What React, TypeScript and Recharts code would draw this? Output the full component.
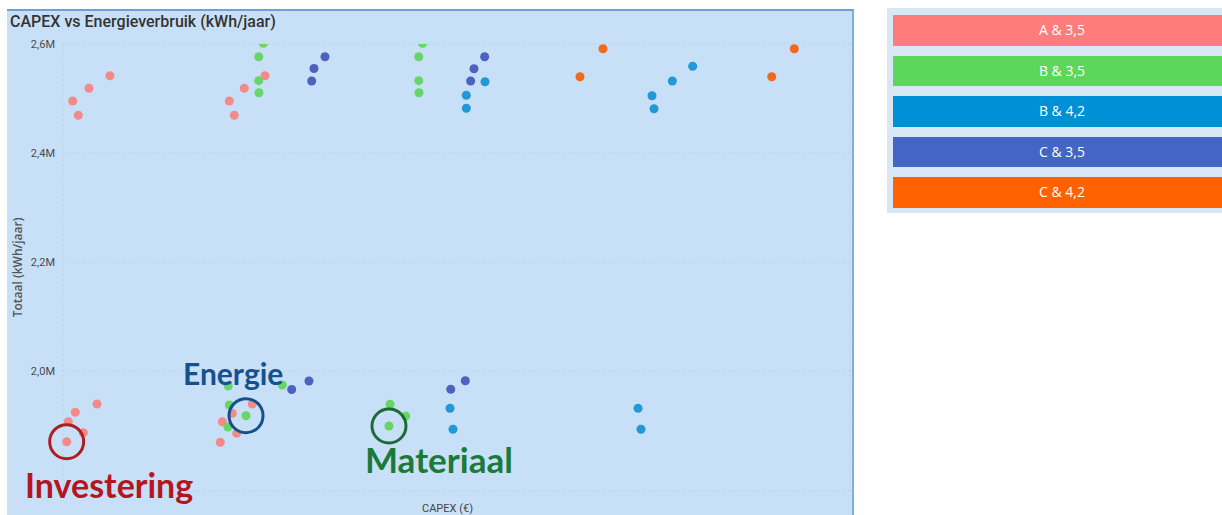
import React from 'react';
import { ScatterChart, Scatter, XAxis, YAxis, ZAxis, CartesianGrid, ReferenceDot } from 'recharts';

// Series labels and colours
const seriesNames = ['A & 3,5', 'B & 3,5', 'B & 4,2', 'C & 3,5', 'C & 4,2'];
const legendColors = ['#ff7c7c', '#5bd75b', '#0090d6', '#4365c3', '#ff6200'];
const dotColors = ['#f38a8a', '#67d567', '#2398d6', '#4c62c0', '#f06a1c'];

// CAPEX (€) and Totaal (kWh/jaar) per series
const capexA35 = [51100, 57500, 69700, 93700, 230200, 235900, 247300, 271000, 78900, 54100, 46100, 63200, 44200, 222200, 219900, 233600, 256500, 238600];
const energyA35 = [2495400, 2469200, 2518700, 2541800, 2495400, 2469200, 2518700, 2541800, 1939400, 1924200, 1907000, 1886800, 1870300, 1907000, 1869200, 1922400, 1939400, 1885700];

const capexB35 = [269100, 263800, 263800, 264100, 451300, 446800, 446800, 447100, 229000, 290800, 230200, 249300, 228700, 414000, 431900, 412800];
const energyB35 = [2601300, 2576700, 2532700, 2510600, 2601300, 2576700, 2532700, 2510600, 1972500, 1974300, 1937600, 1918000, 1897200, 1938900, 1917400, 1899100];

const capexB42 = [522600, 501200, 501200, 760100, 736800, 713600, 715900, 482600, 486000, 697600, 701000];
const energyB42 = [2530800, 2505900, 2482000, 2559100, 2532100, 2505100, 2481300, 1931600, 1893000, 1931600, 1893000];

const capexC35 = [339600, 327000, 324400, 522200, 510000, 506200, 301500, 321300, 483400, 500100];
const energyC35 = [2576700, 2555000, 2532100, 2576700, 2554700, 2532100, 1966000, 1981600, 1966400, 1982200];

const capexC42 = [657500, 631200, 876300, 850500];
const energyC42 = [2591400, 2540000, 2591400, 2540000];

const yTicks = [2000000, 2200000, 2400000, 2600000];
const xTicks = [200000, 400000, 600000, 800000];

const toPoints = (xs: number[], ys: number[]) => xs.map((x, i) => ({ x, y: ys[i] }));
const seriesData = [
  toPoints(capexA35, energyA35),
  toPoints(capexB35, energyB35),
  toPoints(capexB42, energyB42),
  toPoints(capexC35, energyC35),
  toPoints(capexC42, energyC42),
];

// annotated points
const investPoint = seriesData[0][12];
const energiePoint = seriesData[1][11];
const materiaalPoint = seriesData[1][15];

const fmtY = (v: number) => (v / 1000000).toFixed(1).replace('.', ',') + 'M';

export default function App() {
  return (
    <div style={{ position: 'fixed', left: 0, top: 0, width: 1222, height: 515, overflow: 'hidden', background: '#ffffff' }}>
      <div style={{ position: 'absolute', left: 7, top: 9, width: 845, height: 506, background: '#c8e0f7', borderTop: '2px solid #6e9fd5', borderRight: '2px solid #82addb' }} />
      <div style={{ position: 'absolute', left: 0, top: 0 }}>
        <ScatterChart width={860} height={515} margin={{ top: 44, right: 10, bottom: 0, left: 0 }}>
          <CartesianGrid stroke="#a9c0d8" strokeOpacity={0.45} strokeDasharray="2 3" />
          <XAxis
            type="number"
            dataKey="x"
            domain={[40000, 940000]}
            ticks={xTicks}
            tick={false}
            axisLine={false}
            tickLine={false}
            height={24.1}
            label={{ value: 'CAPEX (€)', position: 'insideBottom', offset: 3, dx: -9, fill: '#444', fontSize: 11, fontFamily: 'Roboto' }}
          />
          <YAxis
            type="number"
            dataKey="y"
            domain={[1780000, 2600000]}
            allowDataOverflow
            ticks={yTicks}
            tickFormatter={fmtY}
            axisLine={false}
            tickLine={false}
            width={63}
            tick={{ fill: '#4a4a4a', fontSize: 11, fontFamily: 'Roboto' }}
            label={{ value: 'Totaal (kWh/jaar)', angle: -90, position: 'insideLeft', offset: 18, style: { textAnchor: 'middle' }, fill: '#555', fontSize: 12, fontWeight: 600, fontFamily: 'Open Sans' }}
          />
          <ZAxis range={[64, 64]} />
          {seriesData.map((d, i) => (
            <Scatter key={seriesNames[i]} name={seriesNames[i]} data={d} fill={dotColors[i]} isAnimationActive={false} />
          ))}
          <ReferenceDot x={investPoint.x} y={investPoint.y} r={17} fill="none" stroke="#b01c22" strokeWidth={3} />
          <ReferenceDot x={energiePoint.x} y={energiePoint.y} r={17} fill="none" stroke="#154f8c" strokeWidth={3} />
          <ReferenceDot x={materiaalPoint.x} y={materiaalPoint.y} r={17} fill="none" stroke="#1c6b35" strokeWidth={3} />
        </ScatterChart>
      </div>
      <svg width={860} height={515} style={{ position: 'absolute', left: 0, top: 0, pointerEvents: 'none' }}>
        <text x={10} y={26.5} fontFamily="Roboto" fontSize={16} fontWeight={500} fill="#333">CAPEX vs Energieverbruik (kWh/jaar)</text>
        <text x={183} y={385} fontFamily="Lato" fontWeight={700} fontSize={30} fill="#17508f">Energie</text>
        <text x={25} y={498} fontFamily="Lato" fontWeight={700} fontSize={34} fill="#b5161e">Investering</text>
        <text x={365} y={473} fontFamily="Lato" fontWeight={700} fontSize={35} fill="#1a7a3a">Materiaal</text>
      </svg>
      <div style={{ position: 'absolute', left: 887, top: 8, width: 340, height: 205, background: '#d9e7f4' }}>
        {seriesNames.map((n, i) => (
          <div key={n} style={{ position: 'absolute', left: 6, top: 7 + i * 40.5, width: 338, height: 30.5, background: legendColors[i], color: '#fff', fontFamily: 'Open Sans', fontSize: 14, lineHeight: '30.5px', textAlign: 'center' }}>{n}</div>
        ))}
      </div>
    </div>
  );
}
